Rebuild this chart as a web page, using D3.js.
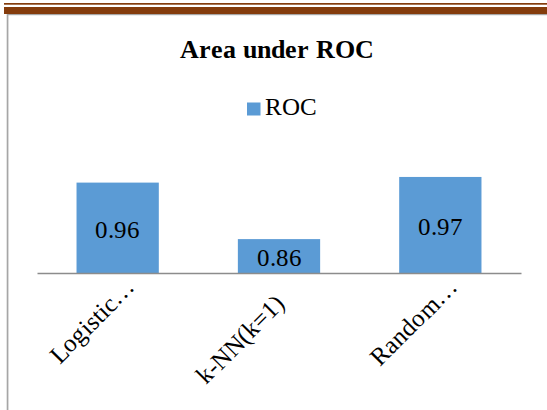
<!DOCTYPE html>
<html>
<head>
<meta charset="utf-8">
<script src="https://cdn.jsdelivr.net/npm/d3@7"></script>
<style>
  @font-face { font-family: "ChartSerif"; src: local("Liberation Serif"), local("LiberationSerif"); font-weight: 400; }
  @font-face { font-family: "ChartSerif"; src: local("Liberation Serif Bold"), local("LiberationSerif-Bold"); font-weight: 700; }
  svg text { font-family: "ChartSerif", "Liberation Serif", serif !important; }
</style>
</head>
<body style="margin:0">
<script>
// ---- data ----
const categories = ["Logistic\u2026", "k-NN(k=1)", "Random\u2026"];
const rocValues = [0.96, 0.86, 0.97];
const seriesName = "ROC";
const chartTitle = "Area under ROC";
const yDomain = [0.8, 1.0];

// ---- layout ----
const W = 547, H = 410;
const FONT = "'ChartSerif', 'Liberation Serif', serif";
const plot = { left: 37, right: 521, top: 160, bottom: 273 };
const barColor = "#5B9BD5";
const brown = "#843C0C";
const frameGray = "#A6A6A6";
// the untruncated tick label sits further back along its rotated baseline
const tickLabelAlong = { "k-NN(k=1)": -20 };

const svg = d3.select("body").append("svg").attr("width", W).attr("height", H);

// decorative document border (top double rule + left frame)
svg.append("rect").attr("x", 4).attr("y", 3).attr("width", W - 4).attr("height", 1.7).attr("fill", brown);
svg.append("rect").attr("x", 4).attr("y", 7).attr("width", W - 4).attr("height", 7).attr("fill", brown);
svg.append("rect").attr("x", 7).attr("y", 14).attr("width", W - 7).attr("height", 1.2).attr("fill", frameGray);
svg.append("rect").attr("x", 6.7).attr("y", 14).attr("width", 1.7).attr("height", H - 14).attr("fill", frameGray);

// title
svg.append("text").attr("x", 277).attr("y", 58).attr("text-anchor", "middle")
  .attr("font-size", 25.5).attr("font-weight", "bold").attr("fill", "#000")
  .style("font-family", FONT, "important")
  .text(chartTitle);

// legend
svg.append("rect").attr("x", 247).attr("y", 102.5).attr("width", 13.5).attr("height", 13).attr("fill", barColor);
svg.append("text").attr("x", 265).attr("y", 115).attr("font-size", 25).attr("fill", "#000")
  .style("font-family", FONT, "important").text(seriesName);

// scales
const x = d3.scaleBand().domain(categories).range([plot.left, plot.right])
  .paddingInner(0.49).paddingOuter(0.245);
const y = d3.scaleLinear().domain(yDomain).range([plot.bottom, plot.top]);

const data = categories.map((c, i) => ({ cat: c, v: rocValues[i] }));

// bars
svg.append("g").selectAll("rect").data(data).join("rect")
  .attr("x", d => x(d.cat))
  .attr("y", d => y(d.v))
  .attr("width", x.bandwidth())
  .attr("height", d => y(yDomain[0]) - y(d.v))
  .attr("fill", barColor);

// value labels
svg.append("g").selectAll("text").data(data).join("text")
  .attr("x", d => x(d.cat) + x.bandwidth() / 2)
  .attr("y", d => (y(d.v) + y(yDomain[0])) / 2 + 10.3)
  .attr("text-anchor", "middle")
  .attr("font-size", 25)
  .attr("fill", "#000")
  .style("font-family", FONT, "important")
  .text(d => d3.format(".2f")(d.v));

// x axis
const xAxis = d3.axisBottom(x).tickSize(0).tickSizeOuter(0);
const gx = svg.append("g").attr("transform", `translate(0,${plot.bottom})`).call(xAxis);
gx.attr("font-family", FONT).attr("font-size", 25);
gx.select(".domain").attr("stroke", "#8C8C8C").attr("stroke-width", 1.3);
gx.selectAll(".tick text")
  .attr("fill", "#000")
  .attr("text-anchor", "end")
  .attr("dy", null)
  .attr("x", d => 2 + (tickLabelAlong[d] || 0))
  .attr("y", d => 24 + (tickLabelAlong[d] ? 4 : 0))
  .attr("transform", "rotate(-45)")
  .style("font-family", FONT, "important");
</script>
</body>
</html>
